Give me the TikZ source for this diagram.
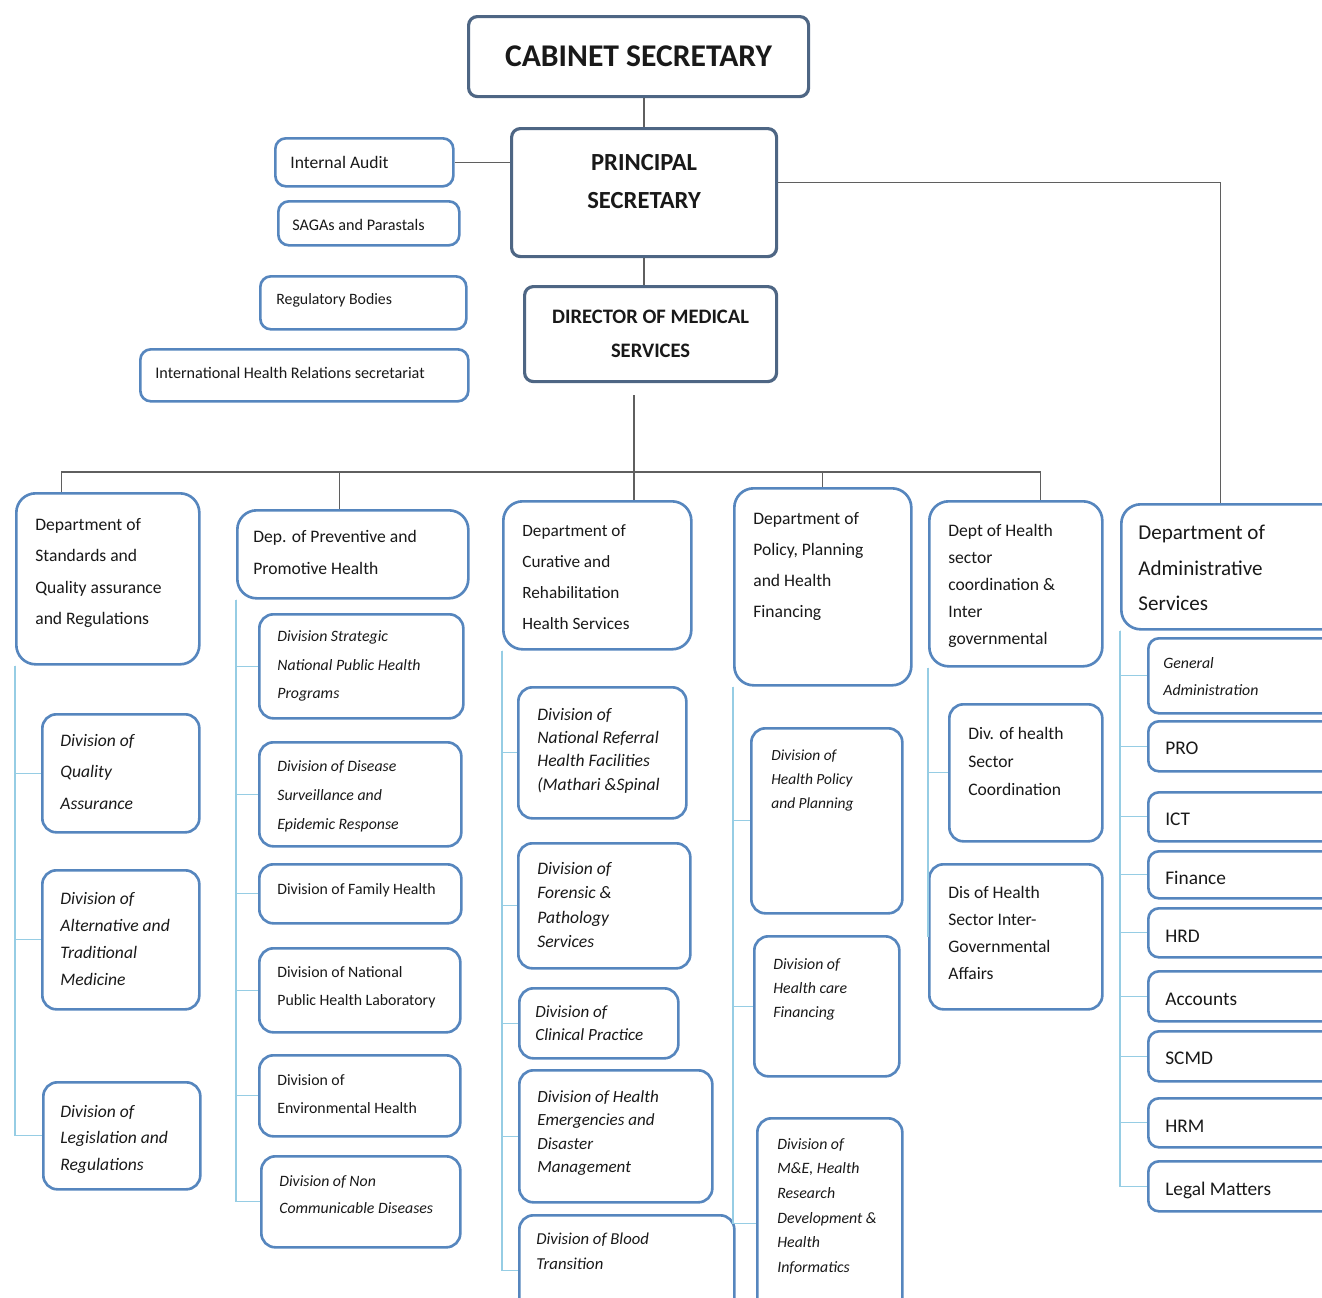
\documentclass[tikz,border=0pt]{standalone}
\usepackage{fontspec}
\setmainfont{Carlito}
\usetikzlibrary{calc}
\definecolor{boxblue}{RGB}{86,134,190}
\definecolor{topblue}{RGB}{78,102,132}
\definecolor{linegray}{RGB}{95,95,95}
\definecolor{subblue}{RGB}{150,205,228}

\begin{document}
\begin{tikzpicture}[x=0.02cm, y=-0.02cm,
    unit/.style={draw=boxblue, line width=1.5pt, fill=white, anchor=north west, inner sep=0pt},
    wh/.style 2 args={minimum width=#1*0.02cm, minimum height=#2*0.02cm},
    top/.style={unit, draw=topblue, line width=1.8pt, rounded corners=5pt, align=center, text=black!90},
    dept/.style={unit, rounded corners=11pt},
    div/.style={unit, rounded corners=8pt},
    item/.style={unit, rounded corners=6pt},
    lbl/.style={anchor=north west, inner sep=0pt, align=left, text=black!90},
    one/.style={anchor=west, inner sep=0pt, text=black!90},
    fs/.style 2 args={font=\fontsize{#1}{#2}\selectfont},
    ifs/.style 2 args={font=\fontsize{#1}{#2}\selectfont\itshape},
    bfs/.style 2 args={font=\fontsize{#1}{#2}\selectfont\bfseries},
    link/.style={draw=linegray, line width=0.7pt},
    sub/.style={draw=subblue, line width=0.6pt}]

  \useasboundingbox (0,0) rectangle (1322,1298);
  \clip (0,0) rectangle (1322,1298);

  % top of the chart
  \node[top, wh={340}{80}, bfs={18}{22}]  (cs)  at (467,15)  {CABINET SECRETARY};
  \node[top, wh={265}{128}] (ps)  at (510,127) {};
  \node[bfs={14}{22}, align=center, text=black!90] (ps-t) at ($(ps.center)+(0,-11)$) {PRINCIPAL\\SECRETARY};
  \node[top, wh={252}{95}, bfs={11.7}{19.3}] (dms) at (523,285) {DIRECTOR OF MEDICAL\\SERVICES};

  \node[item, wh={178}{48}]  (ia)    at (274,137) {};
  \node[item, wh={181}{44}]  (sagas) at (277,200) {};
  \node[item, wh={206}{53}]  (reg)   at (259,275) {};
  \node[item, wh={328}{52}]  (ihr)   at (139,348) {};
  \node[one, fs={10}{12}]    (ia-t)    at ($(ia.west)+(16,0)$)    {Internal Audit};
  \node[one, fs={9.2}{12}]   (sagas-t) at ($(sagas.west)+(15,2)$) {SAGAs and Parastals};
  \node[one, fs={9}{12}]     (reg-t)   at ($(reg.west)+(17,-2)$)  {Regulatory Bodies};
  \node[one, fs={9.2}{12}]   (ihr-t)   at ($(ihr.west)+(16,-2)$)  {International Health Relations secretariat};

  % departments
  \node[dept, wh={183}{171}] (std)  at (15,492)   {};
  \node[dept, wh={231}{88}]  (prev) at (236,509)  {};
  \node[dept, wh={188}{148}] (cur)  at (502,500)  {};
  \node[dept, wh={177}{197}] (pol)  at (733,487)  {};
  \node[dept, wh={173}{165}] (hs)   at (928,500)  {};
  \node[dept, wh={220}{125}] (adm)  at (1120,503) {};
  \node[lbl, fs={10}{17.9}]  (std-t)  at ($(std.north west)+(20,26)$)  {Department of\\Standards and\\Quality assurance\\and Regulations};
  \node[lbl, fs={10}{17.9}]  (prev-t) at ($(prev.north west)+(17,21)$) {Dep. of Preventive and\\Promotive Health};
  \node[lbl, fs={9.8}{17.7}] (cur-t)  at ($(cur.north west)+(20,24)$)  {Department of\\Curative and\\Rehabilitation\\Health Services};
  \node[lbl, fs={10}{17.6}]  (pol-t)  at ($(pol.north west)+(20,25)$)  {Department of\\Policy, Planning\\and Health\\Financing};
  \node[lbl, fs={10}{15.3}]  (hs-t)   at ($(hs.north west)+(20,24)$)   {Dept of Health\\sector\\coordination \&\\Inter\\governmental};
  \node[lbl, fs={12}{20.1}]  (adm-t)  at ($(adm.north west)+(18,22)$)  {Department of\\Administrative\\Services};

  % standards and quality divisions
  \node[div, wh={157}{118}] (qa)  at (41,713)  {};
  \node[div, wh={157}{139}] (alt) at (41,869)  {};
  \node[div, wh={157}{107}] (leg) at (42,1081) {};
  \node[lbl, ifs={10}{17.9}] (qa-t)  at ($(qa.north west)+(19,21)$)  {Division of\\Quality\\Assurance};
  \node[lbl, ifs={10}{15.3}] (alt-t) at ($(alt.north west)+(19,23)$) {Division of\\Alternative and\\Traditional\\Medicine};
  \node[lbl, ifs={10}{15}]   (leg-t) at ($(leg.north west)+(18,24)$) {Division of\\Legislation and\\Regulations};

  % preventive and promotive divisions
  \node[div, wh={204}{104}] (strat) at (258,613)  {};
  \node[div, wh={202}{104}] (dis)   at (258,741)  {};
  \node[div, wh={202}{59}]  (fam)   at (258,863)  {};
  \node[div, wh={201}{84}]  (lab)   at (258,947)  {};
  \node[div, wh={201}{81}]  (env)   at (258,1054) {};
  \node[div, wh={199}{91}]  (ncd)   at (260,1155) {};
  \node[lbl, ifs={9}{16.4}]   (strat-t) at ($(strat.north west)+(19,17)$) {Division Strategic\\National Public Health\\Programs};
  \node[lbl, ifs={9}{16.7}]   (dis-t)   at ($(dis.north west)+(19,19)$)   {Division of Disease\\Surveillance and\\Epidemic Response};
  \node[one, fs={9}{12}]      (fam-t)   at ($(fam.west)+(19,-4)$)         {Division of Family Health};
  \node[lbl, fs={9}{15.9}]    (lab-t)   at ($(lab.north west)+(19,19)$)   {Division of National\\Public Health Laboratory};
  \node[lbl, fs={9}{15.9}]    (env-t)   at ($(env.north west)+(19,20)$)   {Division of\\Environmental Health};
  \node[lbl, ifs={9}{15.3}]   (ncd-t)   at ($(ncd.north west)+(19,20)$)   {Division of Non\\Communicable Diseases};

  % curative and rehabilitative divisions
  \node[div, wh={168}{131}] (refr)  at (517,686)  {};
  \node[div, wh={172}{125}] (foren) at (517,842)  {};
  \node[div, wh={159}{70}]  (clin)  at (518,987)  {};
  \node[div, wh={193}{132}] (emerg) at (518,1069) {};
  \node[div, wh={215}{110}] (blood) at (518,1214) {};
  \node[lbl, ifs={10}{13.2}]  (refr-t)  at ($(refr.north west)+(20,22)$)  {Division of\\National Referral\\Health Facilities\\(Mathari \&Spinal};
  \node[lbl, ifs={10}{13.9}]  (foren-t) at ($(foren.north west)+(20,20)$) {Division of\\Forensic \&\\Pathology\\Services};
  \node[lbl, ifs={9.7}{13.6}] (clin-t)  at ($(clin.north west)+(17,18)$)  {Division of\\Clinical Practice};
  \node[lbl, ifs={9.7}{13.4}] (emerg-t) at ($(emerg.north west)+(19,21)$) {Division of Health\\Emergencies and\\Disaster\\Management};
  \node[lbl, ifs={9.5}{14.2}] (blood-t) at ($(blood.north west)+(18,19)$) {Division of Blood\\Transition};

  % policy and financing divisions
  \node[div, wh={151}{185}] (hpp) at (750,727)  {};
  \node[div, wh={145}{140}] (hcf) at (753,935)  {};
  \node[div, wh={145}{210}] (mne) at (756,1117) {};
  \node[lbl, ifs={8.8}{13.6}] (hpp-t) at ($(hpp.north west)+(21,23)$) {Division of\\Health Policy\\and Planning};
  \node[lbl, ifs={9}{13.6}]   (hcf-t) at ($(hcf.north west)+(20,23)$) {Division of\\Health care\\Financing};
  \node[lbl, ifs={9}{14}]     (mne-t) at ($(mne.north west)+(21,21)$) {Division of\\M\&E, Health\\Research\\Development \&\\Health\\Informatics};

  % health sector divisions
  \node[div, wh={153}{137}] (hsc) at (948,703) {};
  \node[div, wh={173}{145}] (igr) at (928,863) {};
  \node[lbl, fs={10}{15.9}] (hsc-t) at ($(hsc.north west)+(20,24)$) {Div. of health\\Sector\\Coordination};
  \node[lbl, fs={10}{15.3}] (igr-t) at ($(igr.north west)+(20,23)$) {Dis of Health\\Sector Inter-\\Governmental\\Affairs};

  % administrative units
  \node[item, wh={193}{75}] (gen)   at (1147,637)  {};
  \node[item, wh={193}{50}] (pro)   at (1147,720)  {};
  \node[item, wh={193}{49}] (ict)   at (1147,791)  {};
  \node[item, wh={193}{47}] (fin)   at (1147,850)  {};
  \node[item, wh={193}{49}] (hrd)   at (1147,907)  {};
  \node[item, wh={193}{50}] (acc)   at (1147,970)  {};
  \node[item, wh={193}{50}] (scmd)  at (1147,1030) {};
  \node[item, wh={193}{49}] (hrm)   at (1147,1097) {};
  \node[item, wh={193}{50}] (legal) at (1147,1160) {};
  \node[lbl, ifs={9}{15.3}] (gen-t) at ($(gen.north west)+(16,20)$) {General\\Administration};
  \node[one, fs={11}{13}] (pro-t)   at ($(pro.west)+(18,2)$)   {PRO};
  \node[one, fs={11}{13}] (ict-t)   at ($(ict.west)+(18,2)$)   {ICT};
  \node[one, fs={11}{13}] (fin-t)   at ($(fin.west)+(18,3)$)   {Finance};
  \node[one, fs={11}{13}] (hrd-t)   at ($(hrd.west)+(18,3)$)   {HRD};
  \node[one, fs={11}{13}] (acc-t)   at ($(acc.west)+(18,3)$)   {Accounts};
  \node[one, fs={11}{13}] (scmd-t)  at ($(scmd.west)+(18,2)$)  {SCMD};
  \node[one, fs={11}{13}] (hrm-t)   at ($(hrm.west)+(18,3)$)   {HRM};
  \node[one, fs={11}{13}] (legal-t) at ($(legal.west)+(18,4)$) {Legal Matters};

  % reporting lines
  \coordinate (hub) at (634,472);
  \coordinate (prevtop) at ($(prev.north)+(-13,0)$);
  \draw[link] (ps.north) -- (ps.north |- cs.south);
  \draw[link] (ps.south) -- (ps.south |- dms.north);
  \draw[link] (ia.east) -- (ia.east -| ps.west);
  \draw[link, dotted] ($(sagas.east)+(0,-7)$) -- ($(sagas.east)+(0,-7)$ -| ps.west);
  \draw[link, dotted] ($(reg.east)+(0,16)$) -- ($(reg.east)+(0,16)$ -| dms.west);
  \draw[link] ($(ihr.east)+(0,-20)$) -- ($(ihr.east)+(0,-20)$ -| dms.west);
  \draw[link] ($(ps.east)+(0,-10)$) -| ($(adm.north)+(-11,0)$);
  \draw[link] ($(hub)+(0,-77)$) -- (hub);
  \draw[link] ($(std.north)+(-46,0)$) |- (hub) -| ($(hs.north)+(25,0)$);
  \draw[link] (prevtop) -- (prevtop |- hub);
  \draw[link] (hub) -- (hub |- cur.north);
  \draw[link] (pol.north) -- (pol.north |- hub);

  % division lines
  \foreach \d in {qa,alt,leg}
    \draw[sub] (std.south west) |- (\d.west);
  \foreach \d in {strat,dis,fam,lab,env,ncd}
    \draw[sub] (prev.south west) |- (\d.west);
  \foreach \d in {refr,foren,clin,emerg,blood}
    \draw[sub] (cur.south west) |- (\d.west);
  \foreach \d in {hpp,hcf,mne}
    \draw[sub] (pol.south west) |- (\d.west);
  \foreach \d in {hsc,igr}
    \draw[sub] (hs.south west) |- (\d.west);
  \foreach \d in {gen,pro,ict,fin,hrd,acc,scmd,hrm,legal}
    \draw[sub] (adm.south west) |- (\d.west);
\end{tikzpicture}
\end{document}
